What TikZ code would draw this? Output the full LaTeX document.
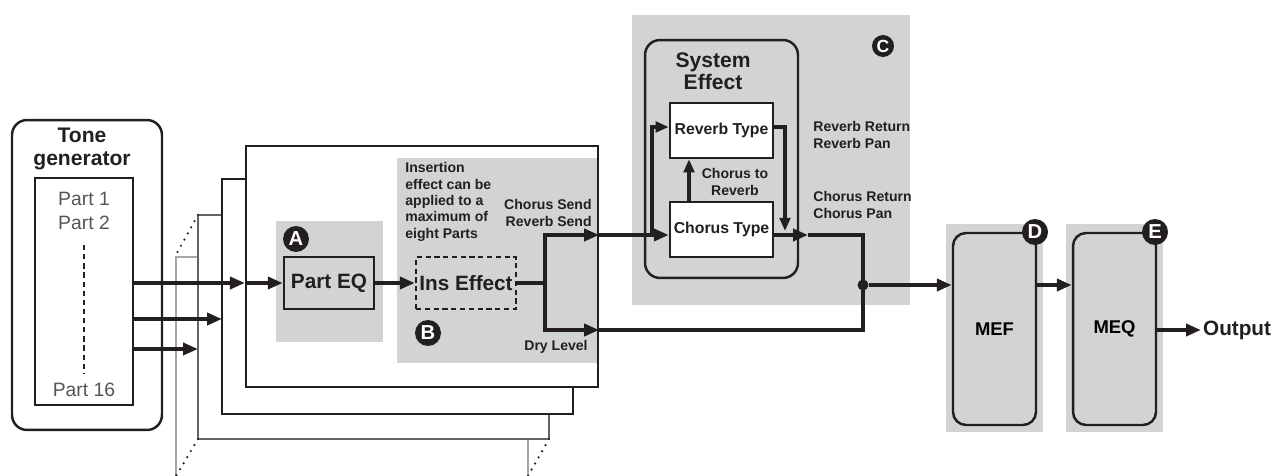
\documentclass[tikz,border=0pt]{standalone}
\usepackage{fontspec}
\setmainfont{Liberation Sans}
\usetikzlibrary{arrows.meta,positioning}
\definecolor{inkblack}{RGB}{35,31,32}
\definecolor{panelgray}{RGB}{209,211,212}
\definecolor{partgray}{RGB}{85,85,85}
\definecolor{midframe}{RGB}{100,100,100}
\definecolor{lightframe}{RGB}{165,165,165}
\tikzset{
  panel/.style={fill=panelgray},
  block/.style={draw=inkblack, line width=1.4pt, fill=white, align=center,
                inner sep=0pt, text=inkblack,
                font=\bfseries\fontsize{9}{10}\selectfont},
  bigblock/.style={block, font=\bfseries\fontsize{11.8}{13}\selectfont},
  roundbox/.style={draw=inkblack, line width=1.4pt, rounded corners=0.3cm},
  masterbox/.style={roundbox, rounded corners=0.26cm, align=center,
                    font=\bfseries\fontsize{10.5}{12}\selectfont},
  boxtitle/.style={align=center, inner sep=0pt, text=inkblack,
                   font=\bfseries\fontsize{12}{12.8}\selectfont},
  note/.style={inner sep=0pt, text=inkblack,
               font=\bfseries\fontsize{8}{9.3}\selectfont},
  parttext/.style={inner sep=0pt, text=partgray, font=\fontsize{11}{12}\selectfont},
  badge/.style={circle, fill=inkblack, text=white, inner sep=0pt,
                minimum size=0.52cm, font=\bfseries\fontsize{11.5}{12}\selectfont},
  junction/.style={circle, fill=inkblack, inner sep=0pt, minimum size=0.22cm},
  flow/.style={-{Triangle[length=8.5pt, width=6.8pt]}, line width=2.6pt, draw=inkblack},
  thinflow/.style={flow, line width=2pt, -{Triangle[length=7.5pt, width=6pt]}},
  flowline/.style={line width=2.6pt, draw=inkblack},
  dotrow/.style={line width=1.4pt, line cap=round, dash pattern=on 0pt off 4pt, draw=inkblack}
}
\begin{document}
\begin{tikzpicture}[x=0.02cm, y=-0.02cm]
  \useasboundingbox (0,0) rectangle (1278,476);
  % grey areas A to E
  \fill[panel] (276,221) rectangle (383,342);
  \fill[panel] (397,158) rectangle (598,363);
  \fill[panel] (632,15) rectangle (910,305);
  \fill[panel] (946,224) rectangle (1043,432);
  \fill[panel] (1066,224) rectangle (1163,432);

  % tone generator
  \node[roundbox, minimum width=3cm, minimum height=6.2cm] (tg) at (87,275) {};
  \node[boxtitle] (tgtitle) at (82,149) {Tone\\generator};
  \node[draw=inkblack, line width=0.6pt, minimum width=1.96cm, minimum height=4.54cm] (parts) at (84,291.5) {};
  \node[parttext] (part1) at (84,199) {Part 1};
  \node[parttext] (part2) at (84,223) {Part 2};
  \node[parttext] (part16) at (84,390) {Part 16};
  \draw[inkblack, line width=1.6pt, dash pattern=on 3pt off 2.2pt] (part2.south |- 0,245) -- (part16.north |- 0,373);

  % stacked part frames
  \coordinate (frameB) at (222,179);
  \coordinate (frameC) at (198,215);
  \draw[lightframe, line width=0.7pt] (frameC |- 0,257) -- (176,257) -- (176,476);
  \draw[lightframe, line width=0.7pt] (528,439) -- (528,476);
  \draw[midframe, line width=0.8pt] (frameB |- frameC) -- (frameC) -- (198,439) -- (549,439) -- (549,414);
  \draw[inkblack, line width=0.8pt] (246,179) -- (frameB) -- (222,414) -- (573,414) -- (573,387);
  \draw[dotrow] (frameC) -- (177,253);
  \draw[dotrow] (198,439) -- (176,476);
  \draw[dotrow] (549,439) -- (528,476);
  \node[draw=inkblack, line width=1.3pt, minimum width=7.04cm, minimum height=4.82cm] (front) at (422,266.5) {};

  % part EQ and insertion effect
  \node[bigblock, fill=none, minimum width=1.8cm, minimum height=1.04cm] (parteq) at (329,283) {Part EQ};
  \node[bigblock, fill=none, dash pattern=on 3pt off 2pt, minimum width=2cm, minimum height=1.04cm] (ins) at (466,283) {Ins Effect};
  \node[badge] (badgeA) at (296,239) {A};
  \node[badge] (badgeB) at (428,333) {B};
  \node[note, align=left, anchor=west] (insnote) at (405,202) {Insertion\\effect can be\\applied to a\\maximum of\\eight Parts};
  \node[note, align=right, anchor=east] (sendnote) at (592,213) {Chorus Send\\Reverb Send};
  \node[note, anchor=east] (drynote) at (588,347) {Dry Level};

  \draw[flow] (parts.east |- 0,283) -- (front.west |- 0,283);
  \draw[flow] (parts.east |- 0,319) -- (frameB |- 0,319);
  \draw[flow] (parts.east |- 0,349) -- (frameC |- 0,349);
  \draw[flow] (front.west |- 0,283) -- (parteq.west);
  \draw[flow] (parteq.east) -- (ins.west);
  \coordinate (split) at (545,283);
  \coordinate (sendout) at (front.east |- 0,235);
  \coordinate (dryout) at (front.east |- 0,330);
  \draw[flowline] (ins.east) -- (split);
  \draw[flow] (split) |- (sendout);
  \draw[flow] (split) |- (dryout);

  % system effect
  \node[roundbox, minimum width=3.06cm, minimum height=4.76cm] (sysfx) at (721.5,159) {};
  \node[boxtitle] (systitle) at (713,71) {System\\Effect};
  \node[block, minimum width=2.06cm, minimum height=1.1cm] (reverb) at (721.5,130.5) {Reverb Type};
  \node[block, minimum width=2.06cm, minimum height=1.1cm] (chorus) at (721.5,229.5) {Chorus Type};
  \node[note, align=center] (c2r) at (735,182) {Chorus to\\Reverb};
  \node[note, align=left, anchor=west] (revnote) at (813,135) {Reverb Return\\Reverb Pan};
  \node[note, align=left, anchor=west] (chonote) at (813,205) {Chorus Return\\Chorus Pan};
  \node[badge, minimum size=0.44cm, font=\bfseries\fontsize{10}{10}\selectfont] (badgeC) at (883,46) {C};

  \coordinate (tap) at (652,235);
  \coordinate (merge) at (785,231);
  \coordinate (returnout) at (808,235);
  \draw[flow] (sendout) -- (chorus.west |- sendout);
  \draw[thinflow] (tap) |- (reverb.west |- 0,127);
  \draw[thinflow] ([xshift=-0.65cm]chorus.north) -- ([xshift=-0.65cm]reverb.south);
  \draw[thinflow] (reverb.east |- 0,127) -| (merge);
  \draw[flow] (chorus.east |- returnout) -- (returnout);

  % mixing and master section
  \node[junction] (mix) at (863,285) {};
  \draw[flowline] (returnout) -| (mix.center);
  \draw[flowline] (dryout) -| (mix.center);
  \node[masterbox, minimum width=1.66cm, minimum height=3.84cm] (mef) at (994.5,329) {MEF};
  \node[masterbox, minimum width=1.66cm, minimum height=3.84cm] (meq) at (1114.5,329) {MEQ};
  \node[badge] (badgeD) at (1035,232) {D};
  \node[badge] (badgeE) at (1155,232) {E};
  \node[anchor=west, inner sep=1pt, text=inkblack, font=\bfseries\fontsize{11.8}{13}\selectfont] (output) at (1201,330) {Output};
  \draw[flow] (mix) -- (mef.west |- mix);
  \draw[flow] (mef.east |- mix) -- (meq.west |- mix);
  \draw[flow] (meq.east |- output) -- (output.west);
\end{tikzpicture}
\end{document}
